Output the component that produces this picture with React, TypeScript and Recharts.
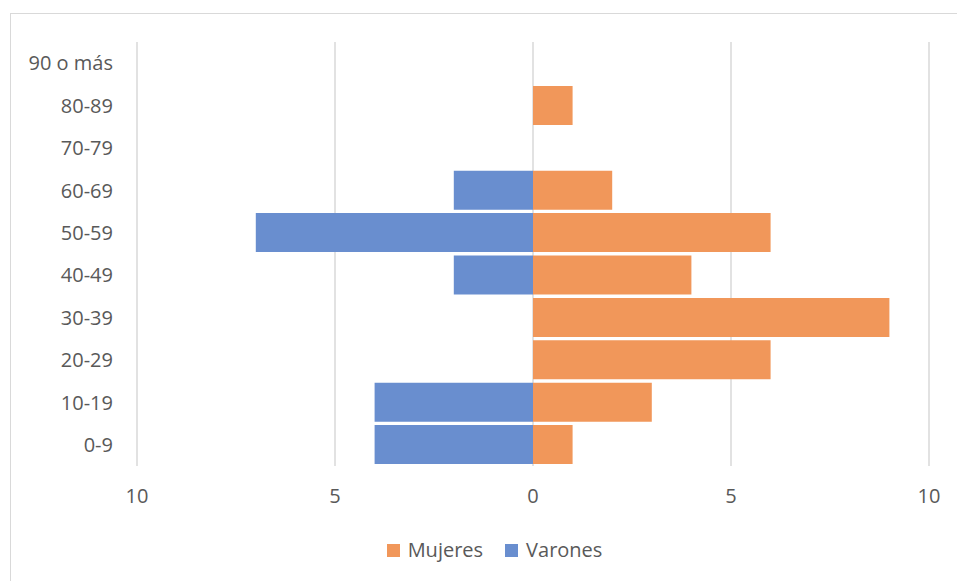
import React from "react";
import {
  BarChart,
  Bar,
  XAxis,
  YAxis,
  CartesianGrid,
  Legend,
} from "recharts";

const groups = ["0-9", "10-19", "20-29", "30-39", "40-49", "50-59", "60-69", "70-79", "80-89", "90 o más"];
const mujeres = [1, 3, 6, 9, 4, 6, 2, 0, 1, 0];
const varones = [-4, -4, 0, 0, -2, -7, -2, 0, 0, 0];
const xTicks = [-10, -5, 0, 5, 10];

const data = groups.map((g, i) => ({ group: g, mujeres: mujeres[i], varones: varones[i] }));

const FONT = "'Open Sans', sans-serif";
const TEXT = "#595959";
const FS = 20;

const LegendBox = (props: any) => {
  const items = props.payload || [];
  return (
    <div
      style={{
        display: "flex",
        justifyContent: "center",
        height: 24,
        lineHeight: "24px",
        paddingLeft: 60,
        boxSizing: "border-box",
        fontFamily: FONT,
        fontSize: FS,
        color: TEXT,
      }}
    >
      {items.map((it: any) => (
        <div key={it.value} style={{ display: "flex", alignItems: "center", margin: "0 11px" }}>
          <span style={{ width: 13, height: 13, background: it.color, display: "inline-block", marginRight: 8 }} />
          <span>{it.value}</span>
        </div>
      ))}
    </div>
  );
};

export default function App() {
  return (
    <div style={{ position: "absolute", left: 0, top: 0, width: 957, height: 581, background: "#fff" }}>
      <div
        style={{
          position: "absolute",
          left: 10,
          top: 13,
          width: 947,
          height: 568,
          borderTop: "1px solid #d9d9d9",
          borderLeft: "1px solid #d9d9d9",
          boxSizing: "border-box",
        }}
      />
      <BarChart
        width={957}
        height={581}
        data={data}
        layout="vertical"
        stackOffset="sign"
        barCategoryGap={1.5}
        margin={{ top: 42, right: 28, left: 0, bottom: 19 }}
      >
        <CartesianGrid horizontal={false} stroke="#d9d9d9" strokeWidth={1.5} />
        <XAxis
          type="number"
          domain={[-10, 10]}
          ticks={xTicks}
          tickFormatter={(v) => String(Math.abs(v))}
          axisLine={false}
          tickLine={false}
          tickSize={0}
          tickMargin={23}
          height={72}
          tick={{ fill: TEXT, fontSize: FS, fontFamily: FONT }}
        />
        <YAxis
          type="category"
          dataKey="group"
          reversed
          width={137}
          axisLine={false}
          tickLine={false}
          tickSize={0}
          tickMargin={24}
          interval={0}
          tick={{ fill: TEXT, fontSize: FS, fontFamily: FONT }}
        />
        <Legend verticalAlign="bottom" content={<LegendBox />} />
        <Bar dataKey="mujeres" name="Mujeres" stackId="a" fill="#F1975A" isAnimationActive={false} />
        <Bar dataKey="varones" name="Varones" stackId="a" fill="#698ECF" isAnimationActive={false} />
      </BarChart>
    </div>
  );
}
